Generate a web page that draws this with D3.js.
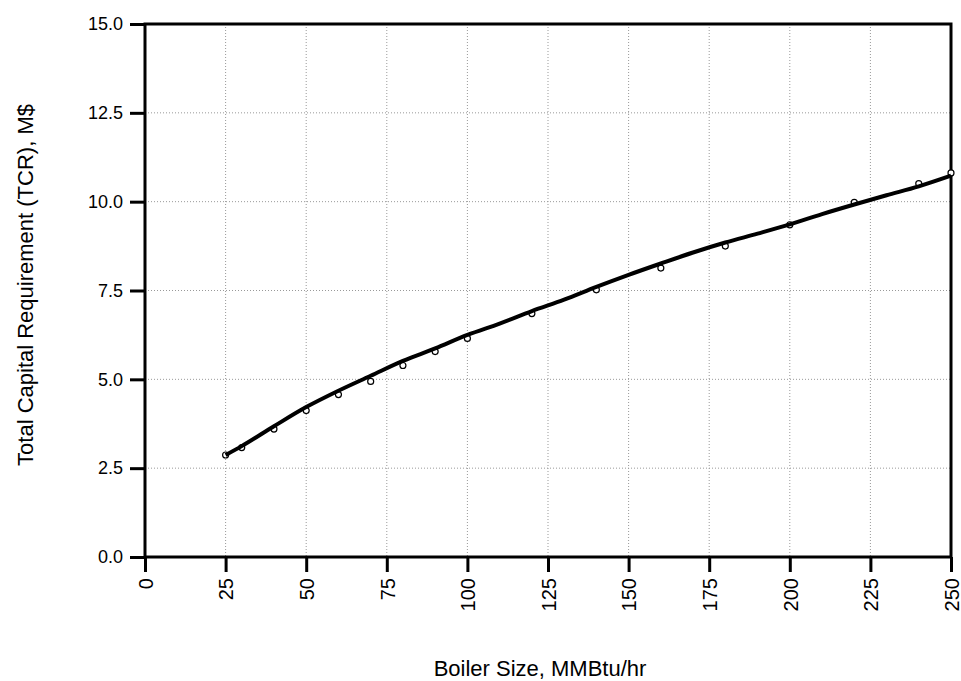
<!DOCTYPE html>
<html>
<head>
<meta charset="utf-8">
<script src="https://cdn.jsdelivr.net/npm/d3@7"></script>
<style>
  body { margin: 0; background: #fff; }
  text { font-family: "Liberation Sans", Arial, sans-serif; fill: #000; }
</style>
</head>
<body>
<svg id="chart"></svg>
<script>
// TCR vs boiler size

var width = 961;
var height = 681;

var margin = { top: 24, right: 10, bottom: 124, left: 145 };

// DATA
// measured points (open circles)
var pointSize = [25, 30, 40, 50, 60, 70, 80, 90, 100, 120, 140, 160, 180, 200, 220, 240, 250];
var pointTcr = [2.87, 3.08, 3.60, 4.12, 4.57, 4.94, 5.39, 5.78, 6.15, 6.85, 7.52, 8.13, 8.75, 9.35, 9.98, 10.51, 10.81];

// fitted curve
var curveSize = [25, 30, 40, 50, 60, 70, 80, 90, 100, 110, 120, 130, 140, 150, 160, 170, 180, 190, 200, 210, 220, 230, 240, 250];
var curveTcr = [2.87, 3.12, 3.68, 4.22, 4.68, 5.10, 5.52, 5.87, 6.25, 6.57, 6.92, 7.24, 7.60, 7.94, 8.26, 8.57, 8.85, 9.10, 9.36, 9.65, 9.92, 10.18, 10.43, 10.73];

var xTicks = [0, 25, 50, 75, 100, 125, 150, 175, 200, 225, 250];
var yTicks = [0, 2.5, 5, 7.5, 10, 12.5, 15];

var svg = d3.select("#chart")
    .attr("width", width)
    .attr("height", height);

// SCALES
var x = d3.scaleLinear()
    .domain([0, 250])
    .range([margin.left, 951]);
var y = d3.scaleLinear()
    .domain([0, 15])
    .range([557, margin.top]);

// GRID
svg.append("g").selectAll("line")
    .data(xTicks.slice(1, -1))
    .enter().append("line")
    .attr("x1", d => x(d)).attr("x2", d => x(d))
    .attr("y1", y(15)).attr("y2", y(0))
    .style("stroke", "#999")
    .style("stroke-width", 1)
    .style("stroke-dasharray", "1,2");

svg.append("g").selectAll("line")
    .data(yTicks.slice(1, -1))
    .enter().append("line")
    .attr("x1", x(0)).attr("x2", x(250))
    .attr("y1", d => y(d)).attr("y2", d => y(d))
    .style("stroke", "#999")
    .style("stroke-width", 1)
    .style("stroke-dasharray", "1,2");

// AXES
var xAxis = svg.append("g")
    .attr("transform", "translate(0," + y(0) + ")")
    .call(d3.axisBottom(x).tickValues(xTicks).tickSize(15).tickSizeOuter(0).tickFormat(d3.format("d")));
xAxis.selectAll("text")
    .attr("transform", "rotate(-90)")
    .attr("x", -21)
    .attr("y", 0)
    .attr("dy", "0.36em")
    .style("text-anchor", "end")
    .style("font-size", "20px");

var yAxis = svg.append("g")
    .attr("transform", "translate(" + x(0) + ",0)")
    .call(d3.axisLeft(y).tickValues(yTicks).tickSize(15).tickSizeOuter(0).tickPadding(7).tickFormat(d3.format(".1f")));
yAxis.selectAll("text")
    .style("font-size", "18px");

svg.selectAll(".tick line")
    .style("stroke", "#000")
    .style("stroke-width", 3);
svg.selectAll(".domain").remove();

// frame
svg.append("rect")
    .attr("x", x(0))
    .attr("y", y(15))
    .attr("width", x(250) - x(0))
    .attr("height", y(0) - y(15))
    .style("fill", "none")
    .style("stroke", "#000")
    .style("stroke-width", 3);

// POINTS (drawn under the line)
svg.append("g").selectAll("circle")
    .data(pointSize)
    .enter().append("circle")
    .attr("cx", (d, i) => x(d))
    .attr("cy", (d, i) => y(pointTcr[i]))
    .attr("r", 3)
    .style("fill", "#fff")
    .style("stroke", "#000")
    .style("stroke-width", 1.2);

// LINE
var line = d3.line()
    .x((d, i) => x(d))
    .y((d, i) => y(curveTcr[i]))
    .curve(d3.curveMonotoneX);

svg.append("path")
    .datum(curveSize)
    .attr("d", line)
    .style("fill", "none")
    .style("stroke", "#000")
    .style("stroke-width", 4)
    .style("stroke-linejoin", "round");

// TITLES
svg.append("text")
    .attr("x", 540)
    .attr("y", 676)
    .style("text-anchor", "middle")
    .style("font-size", "22px")
    .text("Boiler Size, MMBtu/hr");

svg.append("text")
    .attr("transform", "translate(33,285) rotate(-90)")
    .style("text-anchor", "middle")
    .style("font-size", "22px")
    .text("Total Capital Requirement (TCR), M$");
</script>
</body>
</html>
